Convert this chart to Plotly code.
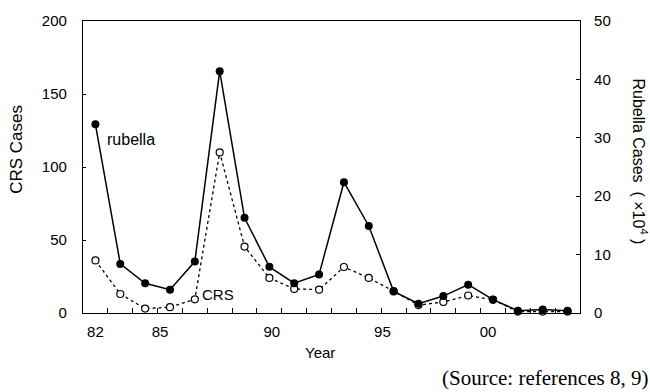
import plotly.graph_objects as go

years = list(range(1982, 2002))
rubella_1e4 = [32.3, 8.4, 5.1, 4.0, 8.8, 41.4, 16.3, 7.9, 5.1, 6.6,
               22.4, 14.9, 3.7, 1.6, 2.9, 4.85, 2.3, 0.4, 0.6, 0.4]
crs_cases = [36, 13, 3, 4, 9.4, 110, 45.5, 24, 16.5, 16,
             31.5, 24, 15, 5.4, 7.6, 12, 9, 1, 1, 1]

xtick_pos = [1982.0, 1984.6, 1989.1, 1993.55, 1997.8]
xtick_text = ["82", "85", "90", "95", "00"]
minor_ticks = [y + 0.5 for y in range(1982, 2001)]
left_ticks = [0, 50, 100, 150, 200]
right_ticks = [0, 10, 20, 30, 40, 50]

font = "Liberation Sans, Arial, sans-serif"

fig = go.Figure()
fig.add_trace(go.Scatter(
    x=years, y=crs_cases, mode="lines+markers", yaxis="y",
    line=dict(color="black", width=1.3, dash="3px,3px"),
    marker=dict(symbol="circle", size=7, color="white",
                line=dict(color="black", width=1.2)),
    showlegend=False, cliponaxis=False))
fig.add_trace(go.Scatter(
    x=years, y=rubella_1e4, mode="lines+markers", yaxis="y2",
    line=dict(color="black", width=1.5),
    marker=dict(symbol="circle", size=8, color="black"),
    showlegend=False, cliponaxis=False))

fig.update_layout(
    width=650, height=392,
    margin=dict(l=83, r=70, t=14, b=79),
    paper_bgcolor="white", plot_bgcolor="white",
    font=dict(family=font, size=14, color="black"),
    xaxis=dict(range=[1981.5, 2001.5], tickmode="array", tickvals=xtick_pos,
               ticktext=xtick_text, ticks="outside", ticklen=0,
               ticklabelstandoff=5,
               showgrid=False, zeroline=False, showline=True,
               linecolor="black", linewidth=1.2, mirror=True,
               tickfont=dict(size=15),
               minor=dict(tickmode="array", tickvals=minor_ticks,
                          ticks="inside", ticklen=5, tickcolor="black",
                          showgrid=False)),
    yaxis=dict(range=[0, 200], tickvals=left_ticks, ticks="inside",
               ticklen=3, tickcolor="black",
               ticklabelstandoff=12,
               showgrid=False, zeroline=False, showline=True,
               linecolor="black", linewidth=1.2, tickfont=dict(size=15)),
    yaxis2=dict(range=[0, 50], tickvals=right_ticks, overlaying="y",
                side="right", ticks="inside", ticklen=4, tickcolor="black",
                ticklabelstandoff=10,
                showgrid=False, zeroline=False, showline=True,
                linecolor="black", linewidth=1.2, tickfont=dict(size=15)),
    annotations=[
        dict(text="rubella", x=1982.4, y=119, xref="x", yref="y",
             showarrow=False, xanchor="left", yanchor="middle",
             font=dict(size=16)),
        dict(text="CRS", x=1986.2, y=13, xref="x", yref="y",
             showarrow=False, xanchor="left", yanchor="middle",
             font=dict(size=15)),
        dict(text="Year", x=0.477, y=-0.134, xref="paper", yref="paper",
             showarrow=False, xanchor="center", yanchor="middle",
             font=dict(size=15)),
        dict(text="CRS Cases", x=-0.133, y=0.562, xref="paper", yref="paper",
             showarrow=False, xanchor="center", yanchor="middle",
             textangle=-90, font=dict(size=17)),
        dict(text="Rubella Cases  ( ×10<sup>4</sup> )", x=1.12, y=0.52,
             xref="paper", yref="paper", showarrow=False,
             xanchor="center", yanchor="middle", textangle=90,
             font=dict(size=16)),
        dict(text="(Source: references 8, 9)", x=1.0, y=0, xref="paper",
             yref="paper", xshift=70, yshift=-65, showarrow=False,
             xanchor="right", yanchor="middle",
             font=dict(family="Liberation Serif, Times New Roman, serif",
                       size=21)),
    ],
)

fig.write_html("out.html")
